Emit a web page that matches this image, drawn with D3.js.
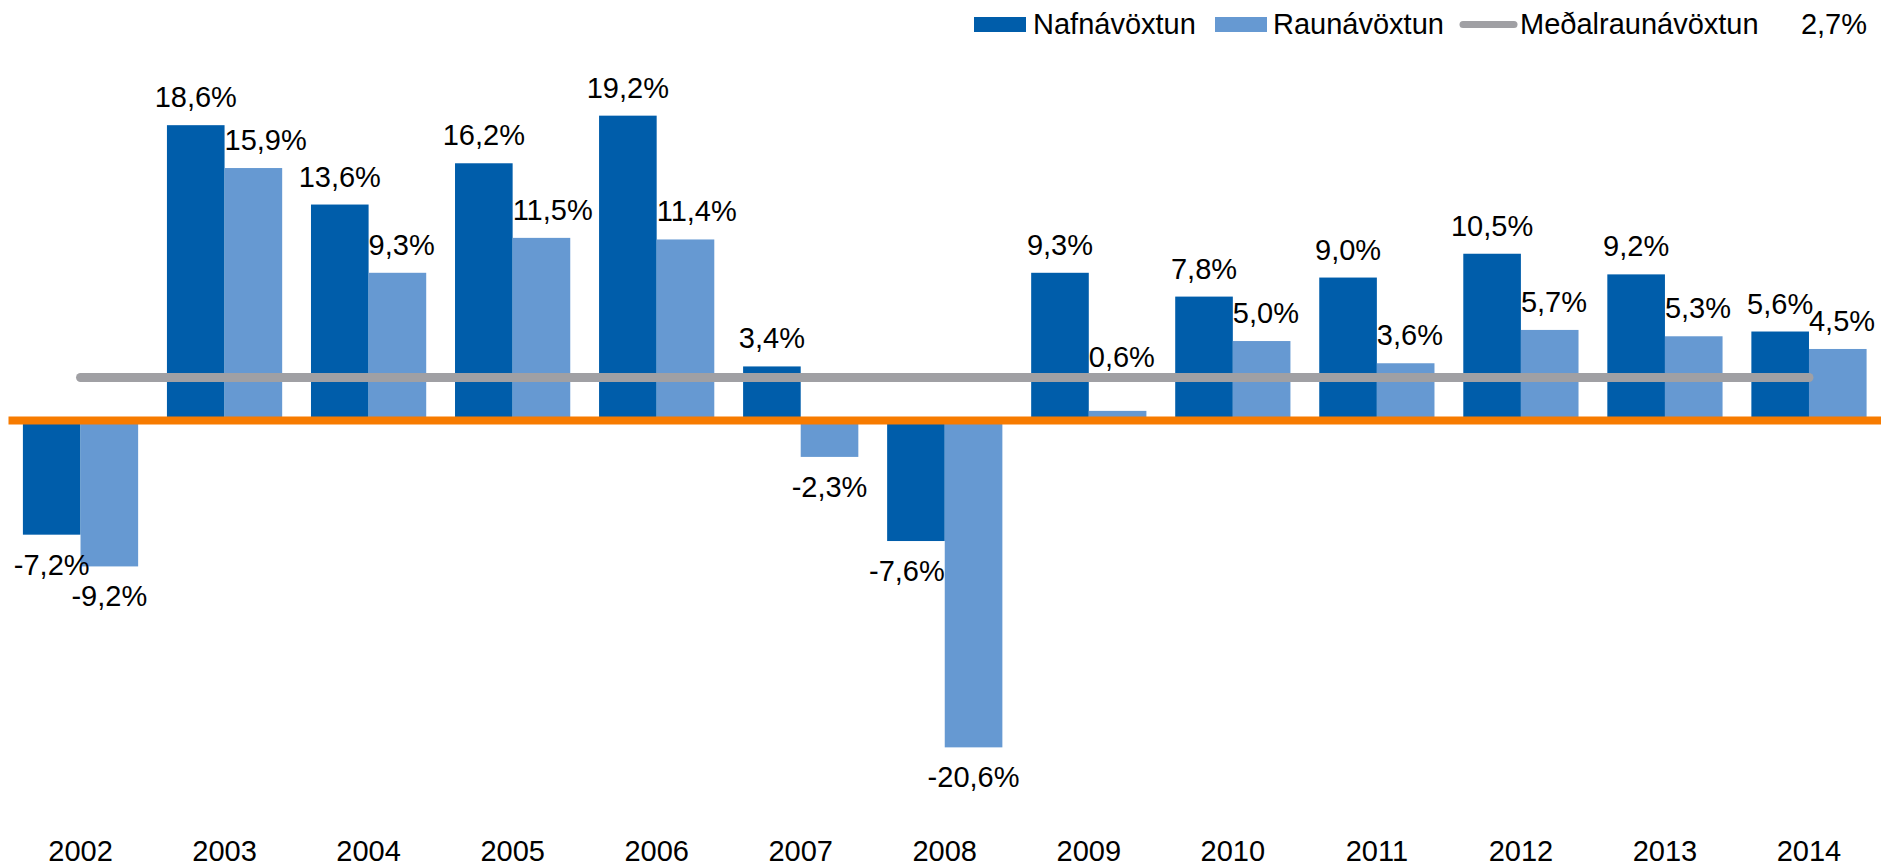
<!DOCTYPE html>
<html lang="is">
<head>
    <meta charset="UTF-8">
    <title>Nafnávöxtun og raunávöxtun</title>
    <script src="https://d3js.org/d3.v7.min.js"></script>
    <style>
        body { margin: 0; background: #fff; }
        svg text {
            font-family: "Liberation Sans", Arial, sans-serif;
            font-size: 29px;
            fill: #000;
        }
    </style>
</head>
<body>
    <svg id="chart" width="1887" height="866"></svg>
    <script>
        // gögn
        const years = ["2002", "2003", "2004", "2005", "2006", "2007", "2008", "2009", "2010", "2011", "2012", "2013", "2014"];
        const nafnavoxtun = [-7.2, 18.6, 13.6, 16.2, 19.2, 3.4, -7.6, 9.3, 7.8, 9.0, 10.5, 9.2, 5.6];
        const raunavoxtun = [-9.2, 15.9, 9.3, 11.5, 11.4, -2.3, -20.6, 0.6, 5.0, 3.6, 5.7, 5.3, 4.5];
        const medalraunavoxtun = 2.7;
        const seriesNames = ["Nafnávöxtun", "Raunávöxtun", "Meðalraunávöxtun"];

        const darkBlue = "#005daa";
        const lightBlue = "#6699d2";
        const orange = "#f77b00";
        const grey = "#a0a0a4";

        const svg = d3.select("#chart");
        const fmt = v => d3.format(".1f")(v).replace(".", ",").replace("\u2212", "-") + "%";

        const x = d3.scaleBand().domain(years).range([8.5, 1881]).paddingInner(0.2).paddingOuter(0.1);
        const x1 = d3.scaleBand().domain(["n", "r"]).range([0, x.bandwidth()]);
        const y = d3.scaleLinear().domain([-25, 25]).range([817.2, 23.6]);

        const data = years.map((yr, i) => ({ year: yr, n: nafnavoxtun[i], r: raunavoxtun[i] }));

        const groups = svg.append("g").selectAll("g")
            .data(data)
            .enter().append("g")
            .attr("transform", d => `translate(${x(d.year)},0)`);

        groups.selectAll("rect")
            .data(d => [{ key: "n", v: d.n }, { key: "r", v: d.r }])
            .enter().append("rect")
            .attr("x", d => x1(d.key))
            .attr("width", x1.bandwidth())
            .attr("y", d => y(Math.max(0, d.v)))
            .attr("height", d => Math.abs(y(d.v) - y(0)))
            .attr("fill", d => d.key === "n" ? darkBlue : lightBlue);

        // núlllína
        svg.append("line")
            .attr("x1", x.range()[0]).attr("x2", x.range()[1])
            .attr("y1", y(0)).attr("y2", y(0))
            .attr("stroke", orange).attr("stroke-width", 8);

        // meðaltal
        const avgY = y(medalraunavoxtun);
        svg.append("line")
            .attr("x1", x(years[0]) + x.bandwidth() / 2)
            .attr("x2", x(years[years.length - 1]) + x.bandwidth() / 2)
            .attr("y1", avgY).attr("y2", avgY)
            .attr("stroke", grey).attr("stroke-width", 9)
            .attr("stroke-linecap", "round");

        // gildismerki
        const labels = [];
        data.forEach(d => {
            ["n", "r"].forEach(key => {
                const v = d[key];
                const other = key === "n" ? d.r : d.n;
                const bx = x(d.year) + x1(key);
                const bw = x1.bandwidth();
                let tx = bx + bw / 2, anchor = "middle";
                let ty = v >= 0 ? y(v) - 18 : y(v) + 40;
                if (key === "r" && v >= 0 && other > v) { tx = bx; anchor = "start"; }
                if (key === "n" && v < 0 && other < v && y(other) > ty) { tx = bx + bw; anchor = "end"; }
                if (v >= 0 && ty - 21 < avgY + 5 && ty > avgY - 5) ty = avgY - 11;
                labels.push({ text: fmt(v), x: tx, y: ty, anchor: anchor });
            });
        });

        svg.append("g").selectAll("text")
            .data(labels)
            .enter().append("text")
            .attr("x", d => d.x)
            .attr("y", d => d.y)
            .attr("text-anchor", d => d.anchor)
            .text(d => d.text);

        // ár
        svg.append("g").selectAll("text")
            .data(years)
            .enter().append("text")
            .attr("x", d => x(d) + x.bandwidth() / 2)
            .attr("y", 861)
            .attr("text-anchor", "middle")
            .text(d => d);

        // skýringar
        const legend = svg.append("g");
        legend.append("rect").attr("x", 974).attr("y", 17).attr("width", 52).attr("height", 15).attr("fill", darkBlue);
        legend.append("text").attr("x", 1033).attr("y", 34).text(seriesNames[0]);
        legend.append("rect").attr("x", 1215).attr("y", 17).attr("width", 52).attr("height", 15).attr("fill", lightBlue);
        legend.append("text").attr("x", 1273).attr("y", 34).text(seriesNames[1]);
        legend.append("line").attr("x1", 1463).attr("x2", 1514).attr("y1", 24.5).attr("y2", 24.5)
            .attr("stroke", grey).attr("stroke-width", 7).attr("stroke-linecap", "round");
        legend.append("text").attr("x", 1520).attr("y", 34).text(seriesNames[2]);
        legend.append("text").attr("x", 1867).attr("y", 34).attr("text-anchor", "end").text(fmt(medalraunavoxtun));
    </script>
</body>
</html>
